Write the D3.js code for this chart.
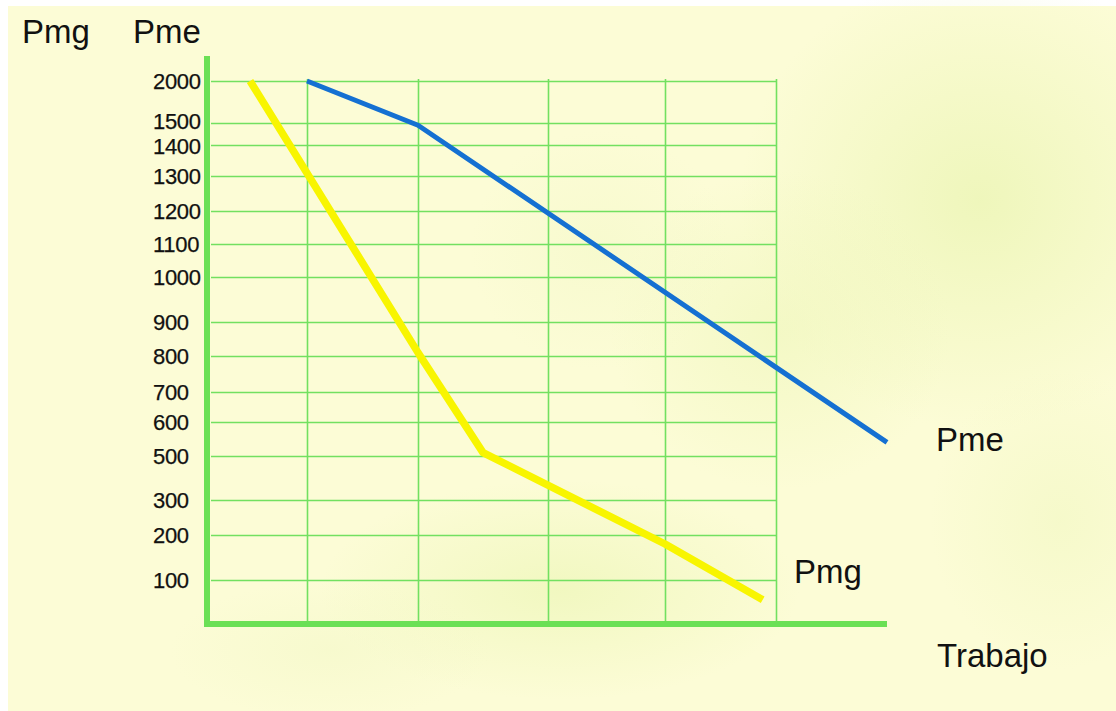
<!DOCTYPE html>
<html>
<head>
<meta charset="utf-8">
<script src="https://cdn.jsdelivr.net/npm/d3@7"></script>
<style>
  html, body { margin: 0; padding: 0; background: #ffffff; }
  svg { display: block; }
  text { font-family: "Liberation Sans", Arial, sans-serif; fill: #111; }
</style>
</head>
<body>
<svg id="chart" width="1116" height="711"></svg>
<script>
// ---- data ----
// Labelled rows of the vertical axis (product per worker)
const yTickValues = [2000, 1500, 1400, 1300, 1200, 1100, 1000, 900, 800, 700, 600, 500, 300, 200, 100];
// Units of labour where the vertical rulings sit
const xGridValues = [1, 2, 3, 4, 5];
// Average product (Pme): [labour, product]
const pmeLabour = [1, 2, 6];
const pmeValues = [2000, 1490, 540];
// Marginal product (Pmg): [labour, product]
const pmgLabour = [0.43, 2, 2.5, 4, 4.88];
const pmgValues = [2000, 810, 510, 180, 55];

// ---- layout ----
const W = 1116, H = 711;
// The grid is ruled by hand: each labelled row has its own height on the page,
// so the vertical scale is piecewise-linear through those rows.
const yDomain = [0, ...yTickValues.slice().reverse()];
const yRange  = [624, 580, 535, 500, 456, 422, 392, 356, 322, 277, 244, 211, 176, 145, 123, 81];
const xDomain = [0, 1, 2, 3, 4, 5, 6];
const xRange  = [207, 307, 418, 548, 665, 776, 887];
// the two crowded labels near the top are nudged apart
const labelNudge = {1500: -2, 1400: 1.5};

const x = d3.scaleLinear().domain(xDomain).range(xRange);
const y = d3.scaleLinear().domain(yDomain).range(yRange);

const svg = d3.select("#chart");
const defs = svg.append("defs");

// ---- slide background: pale cream with soft green clouds ----
svg.append("rect").attr("x", 8).attr("y", 6).attr("width", W - 8).attr("height", H - 6)
  .attr("fill", "#fcfcd6");

const blobs = [
  {cx: 980, cy: 200, rx: 240, ry: 230, c: "#e9f4b0", o: 0.7},
  {cx: 780, cy: 330, rx: 170, ry: 160, c: "#ebf5b4", o: 0.5},
  {cx: 560, cy: 590, rx: 240, ry: 110, c: "#eaf5b2", o: 0.6},
  {cx: 1060, cy: 520, rx: 130, ry: 150, c: "#eef6bc", o: 0.45},
  {cx: 330, cy: 650, rx: 160, ry: 70, c: "#f1f7c4", o: 0.45},
  {cx: 600, cy: 250, rx: 130, ry: 120, c: "#f0f7c2", o: 0.4}
];
blobs.forEach((b, i) => {
  const g = defs.append("radialGradient").attr("id", "blob" + i);
  g.append("stop").attr("offset", "0%").attr("stop-color", b.c).attr("stop-opacity", b.o);
  g.append("stop").attr("offset", "100%").attr("stop-color", b.c).attr("stop-opacity", 0);
  svg.append("ellipse").attr("cx", b.cx).attr("cy", b.cy).attr("rx", b.rx).attr("ry", b.ry)
    .attr("fill", `url(#blob${i})`);
});

const gridColor = "#72e060";
const axisColor = "#6be055";

// ---- horizontal rulings, one per labelled row ----
svg.append("g").attr("transform", `translate(${x(5)},0)`)
  .call(d3.axisRight(y).tickValues(yTickValues).tickSize(-(x(5) - x(0) - 4)).tickFormat(""))
  .call(g => g.select(".domain").remove())
  .call(g => g.selectAll("line").attr("stroke", gridColor).attr("stroke-width", 1.6));

// ---- vertical rulings ----
svg.append("g").attr("transform", `translate(0,${y(0)})`)
  .call(d3.axisBottom(x).tickValues(xGridValues).tickSize(-(y(0) - y(2000) + 2)).tickFormat(""))
  .call(g => g.select(".domain").remove())
  .call(g => g.selectAll("line").attr("stroke", gridColor).attr("stroke-width", 1.6));

// ---- tick labels ----
svg.append("g").selectAll("text").data(yTickValues).join("text")
  .attr("x", 153).attr("y", d => y(d) + (labelNudge[d] || 0)).attr("dy", "0.36em")
  .attr("font-size", 22).attr("letter-spacing", -0.3)
  .attr("stroke", "#111").attr("stroke-width", 0.25)
  .text(d => d);

// ---- thick axes ----
svg.append("line").attr("x1", x(0)).attr("x2", x(0))
  .attr("y1", y(2000) - 25).attr("y2", y(0) + 3)
  .attr("stroke", axisColor).attr("stroke-width", 6);
svg.append("line").attr("x1", x(0) - 3).attr("x2", x(6))
  .attr("y1", y(0)).attr("y2", y(0))
  .attr("stroke", axisColor).attr("stroke-width", 6);

// ---- curves ----
const line = d3.line().x(d => x(d[0])).y(d => y(d[1]));
const pmg = d3.zip(pmgLabour, pmgValues);
const pme = d3.zip(pmeLabour, pmeValues);

svg.append("path").datum(pmg).attr("d", line)
  .attr("fill", "none").attr("stroke", "#f8f500").attr("stroke-width", 7.5)
  .attr("stroke-linejoin", "round");
svg.append("path").datum(pme).attr("d", line)
  .attr("fill", "none").attr("stroke", "#1570d2").attr("stroke-width", 5)
  .attr("stroke-linejoin", "round");

// ---- titles and curve names ----
const big = 33;
svg.append("text").attr("x", 22).attr("y", 43).attr("font-size", big).text("Pmg");
svg.append("text").attr("x", 133).attr("y", 43).attr("font-size", big).text("Pme");
svg.append("text").attr("x", 936).attr("y", 451).attr("font-size", big).text("Pme");
svg.append("text").attr("x", 794).attr("y", 583).attr("font-size", big).text("Pmg");
svg.append("text").attr("x", 937).attr("y", 667).attr("font-size", big).text("Trabajo");
</script>
</body>
</html>
